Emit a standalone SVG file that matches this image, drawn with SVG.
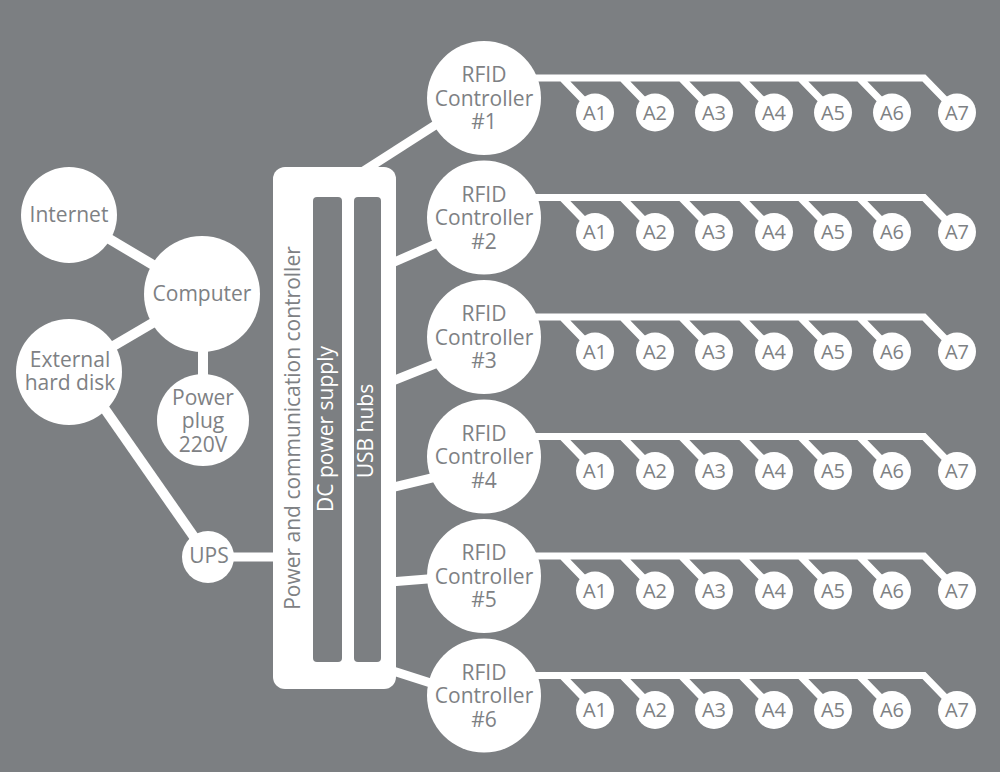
<svg xmlns="http://www.w3.org/2000/svg" width="1000" height="772" viewBox="0 0 1000 772">
<style>
text{font-family:"Open Sans","Liberation Sans",sans-serif;fill:#7e8184;text-anchor:middle;font-size:21px}
.n{fill:#fff}
.c{stroke:#fff;stroke-linecap:butt;fill:none}
.w{stroke-width:10}
.m{stroke-width:9}
.b{stroke-width:7;stroke-linejoin:miter}
.a{font-size:20px}
.bar{fill:#7c7f82}
</style>
<rect width="1000" height="772" fill="#7c7f82"/>
<g id="connectors">
<line class="c w" x1="69" y1="215" x2="202" y2="294"/>
<line class="c w" x1="202" y1="294" x2="69" y2="372"/>
<line class="c w" x1="203" y1="294" x2="203" y2="420"/>
<line class="c w" x1="79" y1="372" x2="208" y2="557"/>
<line class="c m" x1="208" y1="557" x2="280" y2="557"/>
<line class="c m" x1="362" y1="172" x2="440" y2="122"/>
<line class="c m" x1="390" y1="264" x2="440" y2="242"/>
<line class="c m" x1="390" y1="382" x2="440" y2="362"/>
<line class="c m" x1="390" y1="488" x2="440" y2="476"/>
<line class="c m" x1="390" y1="582" x2="440" y2="578"/>
<line class="c m" x1="390" y1="670" x2="440" y2="686"/>
<g id="bus1" transform="translate(0,98)">
<path class="c b" d="M530,-20H924L957,14M562,-20L595,14M622,-20L655,14M681,-20L714,14M741,-20L774,14M800,-20L833,14M859,-20L892,14"/>
</g>
<g id="bus2" transform="translate(0,217.5)">
<path class="c b" d="M530,-20H924L957,14M562,-20L595,14M622,-20L655,14M681,-20L714,14M741,-20L774,14M800,-20L833,14M859,-20L892,14"/>
</g>
<g id="bus3" transform="translate(0,337)">
<path class="c b" d="M530,-20H924L957,14M562,-20L595,14M622,-20L655,14M681,-20L714,14M741,-20L774,14M800,-20L833,14M859,-20L892,14"/>
</g>
<g id="bus4" transform="translate(0,456.5)">
<path class="c b" d="M530,-20H924L957,14M562,-20L595,14M622,-20L655,14M681,-20L714,14M741,-20L774,14M800,-20L833,14M859,-20L892,14"/>
</g>
<g id="bus5" transform="translate(0,576)">
<path class="c b" d="M530,-20H924L957,14M562,-20L595,14M622,-20L655,14M681,-20L714,14M741,-20L774,14M800,-20L833,14M859,-20L892,14"/>
</g>
<g id="bus6" transform="translate(0,695.5)">
<path class="c b" d="M530,-20H924L957,14M562,-20L595,14M622,-20L655,14M681,-20L714,14M741,-20L774,14M800,-20L833,14M859,-20L892,14"/>
</g>
</g>
<g id="internet"><circle class="n" cx="69" cy="215" r="48"/><text x="69" y="222">Internet</text></g>
<g id="computer"><circle class="n" cx="202" cy="294" r="58"/><text x="202" y="301">Computer</text></g>
<g id="harddisk"><circle class="n" cx="69" cy="372" r="53"/><text x="70" y="367">External</text><text x="70" y="390">hard disk</text></g>
<g id="powerplug"><circle class="n" cx="203" cy="420" r="46"/><text x="203" y="405">Power</text><text x="203" y="428">plug</text><text x="203" y="452">220V</text></g>
<g id="ups"><circle class="n" cx="208" cy="557" r="26"/><text x="209" y="563">UPS</text></g>
<g id="controller">
<rect class="n" x="273" y="167" width="123" height="522" rx="12"/>
<text x="0" y="0" font-size="21.5" transform="translate(300,428) rotate(-90)">Power and communication controller</text>
</g>
<g id="dcpower"><rect class="bar" x="313" y="197" width="29" height="465" rx="4"/><text transform="translate(333,429) rotate(-90)" fill="#fff" style="fill:#fff">DC power supply</text></g>
<g id="usbhubs"><rect class="bar" x="354" y="197" width="27" height="465" rx="4"/><text transform="translate(373,431) rotate(-90)" style="fill:#fff">USB hubs</text></g>
<g id="rfid1" transform="translate(484,98)"><circle class="n" r="57"/><text y="-16">RFID</text><text y="7.5">Controller</text><text y="31">#1</text></g>
<g id="rfid2" transform="translate(484,217.5)"><circle class="n" r="57"/><text y="-16">RFID</text><text y="7.5">Controller</text><text y="31">#2</text></g>
<g id="rfid3" transform="translate(484,337)"><circle class="n" r="57"/><text y="-16">RFID</text><text y="7.5">Controller</text><text y="31">#3</text></g>
<g id="rfid4" transform="translate(484,456.5)"><circle class="n" r="57"/><text y="-16">RFID</text><text y="7.5">Controller</text><text y="31">#4</text></g>
<g id="rfid5" transform="translate(484,576)"><circle class="n" r="57"/><text y="-16">RFID</text><text y="7.5">Controller</text><text y="31">#5</text></g>
<g id="rfid6" transform="translate(484,695.5)"><circle class="n" r="57"/><text y="-16">RFID</text><text y="7.5">Controller</text><text y="31">#6</text></g>
<g id="ant1" transform="translate(0,112.5)">
<g><circle class="n" cx="595" r="19"/><text class="a" x="595" y="7">A1</text></g>
<g><circle class="n" cx="655" r="19"/><text class="a" x="655" y="7">A2</text></g>
<g><circle class="n" cx="714" r="19"/><text class="a" x="714" y="7">A3</text></g>
<g><circle class="n" cx="774" r="19"/><text class="a" x="774" y="7">A4</text></g>
<g><circle class="n" cx="833" r="19"/><text class="a" x="833" y="7">A5</text></g>
<g><circle class="n" cx="892" r="19"/><text class="a" x="892" y="7">A6</text></g>
<g><circle class="n" cx="957" r="19"/><text class="a" x="957" y="7">A7</text></g>
</g>
<g id="ant2" transform="translate(0,232)">
<g><circle class="n" cx="595" r="19"/><text class="a" x="595" y="7">A1</text></g>
<g><circle class="n" cx="655" r="19"/><text class="a" x="655" y="7">A2</text></g>
<g><circle class="n" cx="714" r="19"/><text class="a" x="714" y="7">A3</text></g>
<g><circle class="n" cx="774" r="19"/><text class="a" x="774" y="7">A4</text></g>
<g><circle class="n" cx="833" r="19"/><text class="a" x="833" y="7">A5</text></g>
<g><circle class="n" cx="892" r="19"/><text class="a" x="892" y="7">A6</text></g>
<g><circle class="n" cx="957" r="19"/><text class="a" x="957" y="7">A7</text></g>
</g>
<g id="ant3" transform="translate(0,351.5)">
<g><circle class="n" cx="595" r="19"/><text class="a" x="595" y="7">A1</text></g>
<g><circle class="n" cx="655" r="19"/><text class="a" x="655" y="7">A2</text></g>
<g><circle class="n" cx="714" r="19"/><text class="a" x="714" y="7">A3</text></g>
<g><circle class="n" cx="774" r="19"/><text class="a" x="774" y="7">A4</text></g>
<g><circle class="n" cx="833" r="19"/><text class="a" x="833" y="7">A5</text></g>
<g><circle class="n" cx="892" r="19"/><text class="a" x="892" y="7">A6</text></g>
<g><circle class="n" cx="957" r="19"/><text class="a" x="957" y="7">A7</text></g>
</g>
<g id="ant4" transform="translate(0,471)">
<g><circle class="n" cx="595" r="19"/><text class="a" x="595" y="7">A1</text></g>
<g><circle class="n" cx="655" r="19"/><text class="a" x="655" y="7">A2</text></g>
<g><circle class="n" cx="714" r="19"/><text class="a" x="714" y="7">A3</text></g>
<g><circle class="n" cx="774" r="19"/><text class="a" x="774" y="7">A4</text></g>
<g><circle class="n" cx="833" r="19"/><text class="a" x="833" y="7">A5</text></g>
<g><circle class="n" cx="892" r="19"/><text class="a" x="892" y="7">A6</text></g>
<g><circle class="n" cx="957" r="19"/><text class="a" x="957" y="7">A7</text></g>
</g>
<g id="ant5" transform="translate(0,590.5)">
<g><circle class="n" cx="595" r="19"/><text class="a" x="595" y="7">A1</text></g>
<g><circle class="n" cx="655" r="19"/><text class="a" x="655" y="7">A2</text></g>
<g><circle class="n" cx="714" r="19"/><text class="a" x="714" y="7">A3</text></g>
<g><circle class="n" cx="774" r="19"/><text class="a" x="774" y="7">A4</text></g>
<g><circle class="n" cx="833" r="19"/><text class="a" x="833" y="7">A5</text></g>
<g><circle class="n" cx="892" r="19"/><text class="a" x="892" y="7">A6</text></g>
<g><circle class="n" cx="957" r="19"/><text class="a" x="957" y="7">A7</text></g>
</g>
<g id="ant6" transform="translate(0,710)">
<g><circle class="n" cx="595" r="19"/><text class="a" x="595" y="7">A1</text></g>
<g><circle class="n" cx="655" r="19"/><text class="a" x="655" y="7">A2</text></g>
<g><circle class="n" cx="714" r="19"/><text class="a" x="714" y="7">A3</text></g>
<g><circle class="n" cx="774" r="19"/><text class="a" x="774" y="7">A4</text></g>
<g><circle class="n" cx="833" r="19"/><text class="a" x="833" y="7">A5</text></g>
<g><circle class="n" cx="892" r="19"/><text class="a" x="892" y="7">A6</text></g>
<g><circle class="n" cx="957" r="19"/><text class="a" x="957" y="7">A7</text></g>
</g>
</svg>
